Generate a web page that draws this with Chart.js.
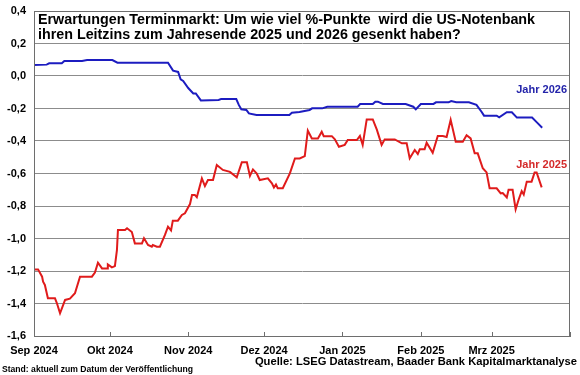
<!DOCTYPE html>
<html>
<head>
<meta charset="utf-8">
<script src="https://cdn.jsdelivr.net/npm/chart.js@4/dist/chart.umd.min.js"></script>
<style>
  html, body { margin: 0; padding: 0; background: #fff; }
  #wrap { position: relative; width: 580px; height: 375px; overflow: hidden; font-family: "Liberation Sans", Arial, sans-serif; }
  #c { position: absolute; left: 0; top: 0; }
  .txt { position: absolute; font-weight: bold; white-space: pre; color: #000; }
  #title { left: 38px; top: 12px; font-size: 14.3px; line-height: 15px; }
  #quelle { right: 3px; top: 355px; font-size: 11.2px; }
  #stand { left: 2px; top: 364px; font-size: 8.6px; }
  #lab26 { right: 13px; top: 83px; font-size: 11px; color: #2424aa; }
  #lab25 { right: 13px; top: 158px; font-size: 11px; color: #d42a2a; }
</style>
</head>
<body>
<div id="wrap">
  <canvas id="c" width="580" height="375"></canvas>
  <div class="txt" id="title">Erwartungen Terminmarkt: Um wie viel %-Punkte  wird die US-Notenbank
ihren Leitzins zum Jahresende 2025 und 2026 gesenkt haben?</div>
  <div class="txt" id="lab26">Jahr 2026</div>
  <div class="txt" id="lab25">Jahr 2025</div>
  <div class="txt" id="quelle">Quelle: LSEG Datastream, Baader Bank Kapitalmarktanalyse</div>
  <div class="txt" id="stand">Stand: aktuell zum Datum der Veröffentlichung</div>
</div>
<script>
// x values: days since 1 Sep 2024
const monthTickDays = [0, 30, 61, 91, 122, 153, 181, 212];
const monthTickLabels = ["Sep 2024", "Okt 2024", "Nov 2024", "Dez 2024", "Jan 2025", "Feb 2025", "Mrz 2025", ""];
const yTicks = [0.4, 0.2, 0.0, -0.2, -0.4, -0.6, -0.8, -1.0, -1.2, -1.4, -1.6];

// Jahr 2026 (blue)
const days2026 = [0, 5, 6, 11, 12, 19, 21, 31, 33, 53, 55, 57, 58, 59, 61, 63, 64, 66, 73, 74, 80, 81, 82, 84, 85, 88, 101, 102, 105, 109, 110, 114, 116, 128, 129, 134, 135, 136, 138, 147, 150, 151, 153, 158, 159, 164, 165, 167, 172, 175, 177, 178, 183, 184, 187, 189, 191, 197, 199, 201];
const vals2026 = [0.068, 0.07, 0.078, 0.078, 0.092, 0.092, 0.098, 0.098, 0.082, 0.082, 0.033, 0.025, -0.02, -0.03, -0.074, -0.107, -0.107, -0.15, -0.147, -0.142, -0.142, -0.178, -0.205, -0.209, -0.23, -0.24, -0.24, -0.226, -0.222, -0.209, -0.199, -0.199, -0.189, -0.189, -0.172, -0.172, -0.158, -0.158, -0.172, -0.172, -0.189, -0.205, -0.172, -0.172, -0.162, -0.162, -0.154, -0.162, -0.162, -0.178, -0.22, -0.244, -0.244, -0.254, -0.223, -0.223, -0.256, -0.256, -0.287, -0.318];

// Jahr 2025 (red)
const days2025 = [0, 1.6, 3.2, 3.6, 4.3, 5.5, 8.3, 9.1, 10.3, 12.3, 14.2, 16.2, 18.2, 22.9, 24.1, 25.3, 26.9, 28.9, 29.2, 30.8, 32, 32.8, 33.2, 36, 36.8, 38.7, 39.9, 42.7, 43.5, 45.1, 46.6, 47, 48.6, 49.8, 51.8, 53, 54.2, 54.9, 56.9, 58.5, 59.7, 61.7, 62.5, 63.6, 64.4, 66.4, 67.6, 68.8, 70.8, 72.3, 74.7, 77.5, 80.2, 82.2, 84.2, 85.4, 86.6, 88.1, 89.3, 92.5, 94.1, 94.9, 95.7, 96.4, 98.4, 101.2, 103.2, 105.1, 107.1, 108.3, 109.9, 112.3, 113.8, 114.6, 117.8, 119, 120.6, 122.9, 124.1, 127.7, 128.9, 130, 131.6, 134, 135.6, 137.5, 138.7, 142.7, 145.5, 147.4, 148.6, 150.6, 151.8, 152.6, 154.5, 155.3, 157.7, 159.7, 161.7, 163.2, 164.8, 166.8, 169.6, 171.1, 172.7, 174.3, 175.5, 177.5, 179, 180.2, 183, 184.6, 185.4, 187, 187.7, 189.3, 190.5, 191.7, 192.9, 193.7, 194.9, 196.8, 198, 198.8, 200.8];
const vals2025 = [-1.19, -1.19, -1.235, -1.266, -1.286, -1.368, -1.368, -1.40, -1.46, -1.378, -1.37, -1.337, -1.235, -1.235, -1.21, -1.149, -1.184, -1.184, -1.16, -1.178, -1.17, -1.071, -0.948, -0.948, -0.937, -0.96, -1.03, -1.03, -0.999, -1.04, -1.05, -1.04, -1.05, -1.05, -0.978, -0.927, -0.95, -0.89, -0.89, -0.855, -0.845, -0.788, -0.732, -0.732, -0.746, -0.63, -0.677, -0.64, -0.64, -0.548, -0.578, -0.59, -0.623, -0.531, -0.531, -0.615, -0.575, -0.60, -0.64, -0.63, -0.66, -0.686, -0.668, -0.691, -0.691, -0.599, -0.507, -0.507, -0.493, -0.336, -0.384, -0.384, -0.343, -0.37, -0.37, -0.39, -0.435, -0.424, -0.394, -0.394, -0.369, -0.424, -0.267, -0.267, -0.33, -0.424, -0.39, -0.39, -0.414, -0.414, -0.507, -0.455, -0.48, -0.45, -0.45, -0.41, -0.472, -0.369, -0.369, -0.375, -0.27, -0.404, -0.404, -0.365, -0.384, -0.476, -0.476, -0.568, -0.593, -0.691, -0.691, -0.722, -0.72, -0.747, -0.70, -0.70, -0.82, -0.76, -0.708, -0.73, -0.65, -0.65, -0.594, -0.594, -0.685];

const toPoints = (xs, ys) => xs.map((x, i) => ({ x: x, y: ys[i] }));

const frameAndTicks = {
  id: 'frameAndTicks',
  afterDraw(chart) {
    const { ctx, chartArea: a, scales } = chart;
    ctx.save();
    ctx.strokeStyle = '#6e6e6e';
    ctx.lineWidth = 1;
    ctx.beginPath();
    scales.x.ticks.forEach(t => {
      const px = Math.round(scales.x.getPixelForValue(t.value)) + 0.5;
      ctx.moveTo(px, a.bottom - 4);
      ctx.lineTo(px, a.bottom);
    });
    ctx.stroke();
    ctx.strokeRect(Math.round(a.left) + 0.5, Math.round(a.top) + 0.5, Math.round(a.right - a.left) - 1, Math.round(a.bottom - a.top));
    ctx.restore();
  }
};

const fmt = v => {
  const n = Math.abs(v) < 1e-9 ? 0 : v;
  return n.toFixed(1).replace('.', ',');
};

new Chart(document.getElementById('c'), {
  type: 'line',
  data: {
    datasets: [
      { label: 'Jahr 2026', data: toPoints(days2026, vals2026), borderColor: '#1c1cc0', borderWidth: 2, pointRadius: 0, tension: 0, fill: false },
      { label: 'Jahr 2025', data: toPoints(days2025, vals2025), borderColor: '#e01b1b', borderWidth: 2, pointRadius: 0, tension: 0, fill: false }
    ]
  },
  options: {
    responsive: false,
    animation: false,
    devicePixelRatio: 1,
    layout: { padding: { left: 0, right: 10, top: 11, bottom: 0 } },
    plugins: { legend: { display: false }, tooltip: { enabled: false }, title: { display: false } },
    scales: {
      x: {
        type: 'linear',
        min: 0,
        max: 212,
        afterBuildTicks: s => { s.ticks = monthTickDays.map(v => ({ value: v })); },
        afterFit: s => { s.height = 39; s.paddingLeft = 0; s.paddingRight = 0; },
        ticks: {
          autoSkip: false,
          maxRotation: 0,
          padding: 8,
          color: '#000',
          font: { family: 'Liberation Sans', size: 11, weight: 'bold' },
          callback: (v) => { const i = monthTickDays.indexOf(v); return i >= 0 ? monthTickLabels[i] : ''; }
        },
        grid: { drawOnChartArea: false, drawTicks: false },
        border: { display: true, color: '#6e6e6e', width: 1 }
      },
      y: {
        min: -1.6,
        max: 0.4,
        afterBuildTicks: s => { s.ticks = yTicks.map(v => ({ value: v })); },
        afterFit: s => { s.width = 34; s.paddingTop = 0; s.paddingBottom = 0; },
        ticks: {
          padding: 8,
          color: '#000',
          font: { family: 'Liberation Sans', size: 11, weight: 'bold' },
          callback: v => fmt(v)
        },
        grid: { color: '#8c8c8c', lineWidth: 1, drawTicks: false },
        border: { display: true, color: '#6e6e6e', width: 1 }
      }
    }
  },
  plugins: [frameAndTicks]
});
</script>
</body>
</html>
